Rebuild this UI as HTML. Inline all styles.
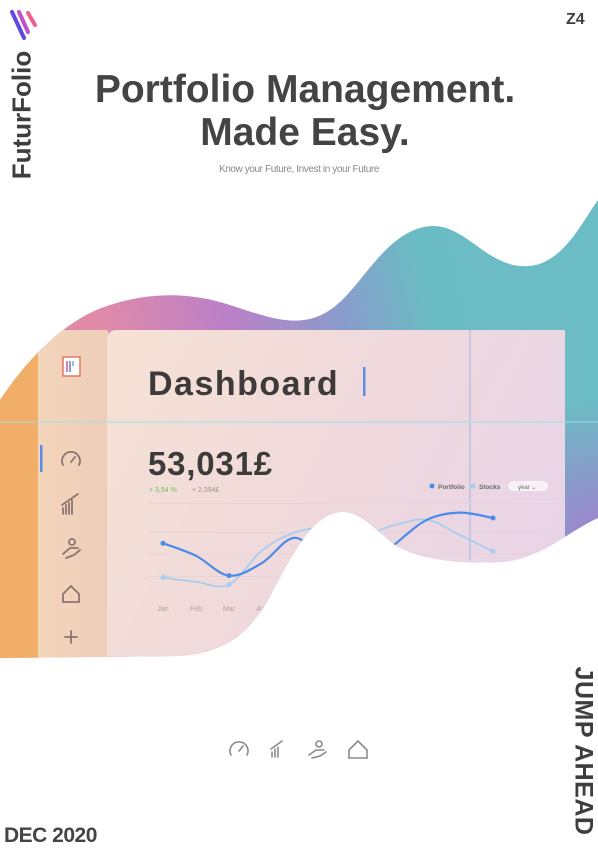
<!DOCTYPE html>
<html><head><meta charset="utf-8">
<style>
html,body{margin:0;padding:0;background:#fff;}
body{width:598px;height:852px;position:relative;overflow:hidden;font-family:"Liberation Sans",sans-serif;}
.abs{position:absolute;}
</style></head>
<body>
<svg class="abs" style="left:0;top:0" width="598" height="852" viewBox="0 0 598 852" xmlns="http://www.w3.org/2000/svg">
<defs>
  <linearGradient id="blobGrad" x1="100" y1="330" x2="520" y2="230" gradientUnits="userSpaceOnUse">
    <stop offset="0" stop-color="#e08aa8"/>
    <stop offset="0.3" stop-color="#bb80c8"/>
    <stop offset="0.55" stop-color="#8a9ccc"/>
    <stop offset="0.75" stop-color="#6bbbc4"/>
    <stop offset="1" stop-color="#6bbcc4"/>
  </linearGradient>
  <radialGradient id="purpleCorner" cx="600" cy="540" r="140" gradientUnits="userSpaceOnUse">
    <stop offset="0" stop-color="#a37fd0" stop-opacity="1"/>
    <stop offset="1" stop-color="#a37fd0" stop-opacity="0"/>
  </radialGradient>
  <linearGradient id="cardGrad" x1="107" y1="330" x2="565" y2="560" gradientUnits="userSpaceOnUse">
    <stop offset="0" stop-color="#f6e2d4"/>
    <stop offset="0.5" stop-color="#efd9dc"/>
    <stop offset="1" stop-color="#e8d4e8"/>
  </linearGradient>
  <linearGradient id="sideGrad" x1="38" y1="0" x2="107" y2="0" gradientUnits="userSpaceOnUse">
    <stop offset="0" stop-color="#f3d5bb"/>
    <stop offset="1" stop-color="#efcdb9"/>
  </linearGradient>
  <clipPath id="blobClip">
    <path id="blobPath" d="M0,400 C20,370 60,320 110,305 C150,292 190,292 230,305 C270,318 300,330 330,310 C360,290 380,240 420,228 C460,216 480,262 520,266 C560,270 580,225 598,200 L598,518 C570,530 540,560 500,562 C460,564 420,560 395,545 C375,530 360,510 340,512 C310,515 290,560 268,600 C250,630 230,652 180,656 L0,658 Z"/>
  </clipPath>
</defs>

<g clip-path="url(#blobClip)">
  <rect x="0" y="190" width="598" height="480" fill="url(#blobGrad)"/>
  <rect x="0" y="190" width="598" height="480" fill="url(#purpleCorner)"/>
  <rect x="0" y="330" width="38" height="340" fill="#f0ae68"/>
  <rect x="38" y="330" width="70" height="340" fill="url(#sideGrad)"/>
  <path d="M117,330 L565,330 L565,670 L107,670 L107,340 Q107,330 117,330 Z" fill="url(#cardGrad)"/>
  <line x1="470" y1="330" x2="470" y2="560" stroke="#9fb6dc" stroke-width="1"/>

  <rect x="63" y="357" width="17" height="19" fill="#fff" stroke="#e07860" stroke-width="1.5"/>
  <line x1="67" y1="361" x2="67" y2="372" stroke="#c85a9a" stroke-width="1.5"/>
  <line x1="70" y1="361" x2="70" y2="372" stroke="#6a7ad8" stroke-width="1.5"/>
  <line x1="73" y1="361" x2="73" y2="366" stroke="#5ab8c8" stroke-width="1.5"/>
  <rect x="40" y="445" width="2.5" height="27" fill="#5a8ee8"/>
  <g stroke="#8a7570" stroke-width="1.8" fill="none" stroke-linecap="round">
    <path d="M63,465 A9,9 0 1 1 79,465"/>
    <line x1="71" y1="462" x2="75" y2="457"/>
    <path d="M63,514 L63,508 M66,514 L66,505 M69,514 L69,503 M72,514 L72,500 M62,505 L78,494"/>
    <path d="M63,554 L70,548 L78,548 M66,558 L74,555 L80,550"/>
    <circle cx="72" cy="542" r="3"/>
    <path d="M63,594 L71,586 L79,594 L79,602 L63,602 Z"/>
    <path d="M71,631 L71,643 M65,637 L77,637"/>
  </g>

  <text x="148" y="395" font-size="34" font-weight="bold" letter-spacing="1.5" fill="#3d3a3a">Dashboard</text>
  <rect x="363" y="367" width="2.5" height="29" fill="#5a8ee8"/>
  <text x="148" y="475" font-size="33" font-weight="bold" letter-spacing="0.8" fill="#3d3a3a">53,031£</text>
  <text x="149" y="492" font-size="7" fill="#6cbf5a">+ 3,54 %</text>
  <text x="192" y="492" font-size="7" fill="#9a9090">+ 2,394£</text>

  <g>
    <circle cx="432" cy="486" r="2.5" fill="#4a8ae8"/>
    <text x="438" y="489" font-size="6.5" font-weight="bold" fill="#6a6a6a">Portfolio</text>
    <circle cx="473" cy="486" r="2.5" fill="#a8cdf0"/>
    <text x="479" y="489" font-size="6.5" font-weight="bold" fill="#6a6a6a">Stocks</text>
    <rect x="508" y="481" width="40" height="10" rx="5" fill="#f7f2f4"/>
    <text x="518" y="489" font-size="6" fill="#6a6a6a">year ⌄</text>
  </g>

  <g id="chart"></g>
</g>

<line x1="0" y1="422" x2="598" y2="422" stroke="#9fe0e4" stroke-width="1"/>
</svg>

<svg class="abs" style="left:8px;top:8px" width="32" height="36">
  <line x1="4" y1="4" x2="16" y2="30" stroke="#5a4ae0" stroke-width="4" stroke-linecap="round"/>
  <line x1="11" y1="4" x2="20" y2="24" stroke="#c050d0" stroke-width="4" stroke-linecap="round"/>
  <line x1="20" y1="5" x2="27" y2="17" stroke="#f0608a" stroke-width="4" stroke-linecap="round"/>
</svg>
<div class="abs" style="left:22px;top:115px;transform:translate(-50%,-50%) rotate(-90deg);font-size:26px;font-weight:bold;color:#3e3e3e;white-space:nowrap;">FuturFolio</div>
<div class="abs" style="left:566px;top:11px;font-size:16px;font-weight:bold;color:#3e3e3e;">Z4</div>

<div class="abs" style="left:0;top:68px;width:610px;text-align:center;font-size:39px;font-weight:bold;color:#444;line-height:43px;">Portfolio Management.<br>Made Easy.</div>
<div class="abs" style="left:0;top:164px;width:598px;text-align:center;font-size:10px;color:#8a8a8a;letter-spacing:-0.4px;">Know your Future, Invest in your Future</div>

<svg class="abs" style="left:225px;top:735px" width="150" height="28">
  <g stroke="#8a8a8a" stroke-width="1.6" fill="none" stroke-linecap="round">
    <path d="M6,20 A9,9 0 1 1 22,20"/>
    <line x1="14" y1="16" x2="18" y2="11"/>
    <path d="M47,22 L47,17 M50,22 L50,14 M53,22 L53,12 M46,14 L57,6"/>
    <path d="M84,20 L91,15 L99,15 M87,23 L95,21 L101,17"/>
    <circle cx="94" cy="9" r="3"/>
    <path d="M124,15 L133,6 L142,15 L142,23 L124,23 Z"/>
  </g>
</svg>

<div class="abs" style="left:4px;top:824px;font-size:21px;font-weight:bold;color:#444;letter-spacing:-0.5px;">DEC 2020</div>
<div class="abs" style="left:583px;top:751px;transform:translate(-50%,-50%) rotate(90deg);font-size:25px;font-weight:bold;color:#3e3e3e;white-space:nowrap;letter-spacing:0.5px;">JUMP AHEAD</div>

<script>
const months = ["Jan","Feb","Mar","Apr","May","Jun","Jul","Aug","Sep","Oct","Nov"];
const portfolio = [52,38,16,30,58,30,20,50,78,86,80];
const stocks = [14,9,6,44,64,69,61,72,78,61,43];
const gridValues = [15,40,64,96];

const NS = "http://www.w3.org/2000/svg";
const chart = document.getElementById("chart");
const x0 = 163, dx = 33;
function xPos(i){ return x0 + i*dx; }
function yPos(v){ return 590 - v*0.9; }

gridValues.forEach(function(g){
  const l = document.createElementNS(NS,"line");
  
  
  l.setAttribute("x1",148); l.setAttribute("x2",560);
  l.setAttribute("y1",yPos(g)); l.setAttribute("y2",yPos(g));
  l.setAttribute("stroke","#e6d2d6"); l.setAttribute("stroke-width","0.8");
  chart.appendChild(l);
});

months.forEach(function(m,i){
  const t = document.createElementNS(NS,"text");
  
  
  t.setAttribute("x",xPos(i)); t.setAttribute("y",611);
  t.setAttribute("font-size","7"); t.setAttribute("fill","#b0a0a4");
  t.setAttribute("text-anchor","middle");
  t.textContent = m;
  chart.appendChild(t);
});

function smoothPath(vals){
  const pts = vals.map(function(v,i){ return [xPos(i), yPos(v)]; });
  let d = "M"+pts[0][0]+","+pts[0][1];
  for(let i=0;i<pts.length-1;i++){
    const p0 = pts[i-1]||pts[i], p1 = pts[i], p2 = pts[i+1], p3 = pts[i+2]||p2;
    const c1x = p1[0]+(p2[0]-p0[0])/6, c1y = p1[1]+(p2[1]-p0[1])/6;
    const c2x = p2[0]-(p3[0]-p1[0])/6, c2y = p2[1]-(p3[1]-p1[1])/6;
    d += " C"+c1x+","+c1y+" "+c2x+","+c2y+" "+p2[0]+","+p2[1];
  }
  return d;
}
function drawSeries(vals, color, width, name){
  const p = document.createElementNS(NS,"path");
  
  
  p.setAttribute("d", smoothPath(vals));
  p.setAttribute("fill","none"); p.setAttribute("stroke",color);
  p.setAttribute("stroke-width",width);
  chart.appendChild(p);
  [0, 2, vals.length-1].forEach(function(i){
    const c = document.createElementNS(NS,"circle");
    
    
    c.setAttribute("cx",xPos(i)); c.setAttribute("cy",yPos(vals[i]));
    c.setAttribute("r","2.5"); c.setAttribute("fill",color);
    chart.appendChild(c);
  });
}
drawSeries(stocks, "#a8cdf0", 1.8, "stocks-line");
drawSeries(portfolio, "#4a8ae8", 2.2, "portfolio-line");
</script>
</body></html>
